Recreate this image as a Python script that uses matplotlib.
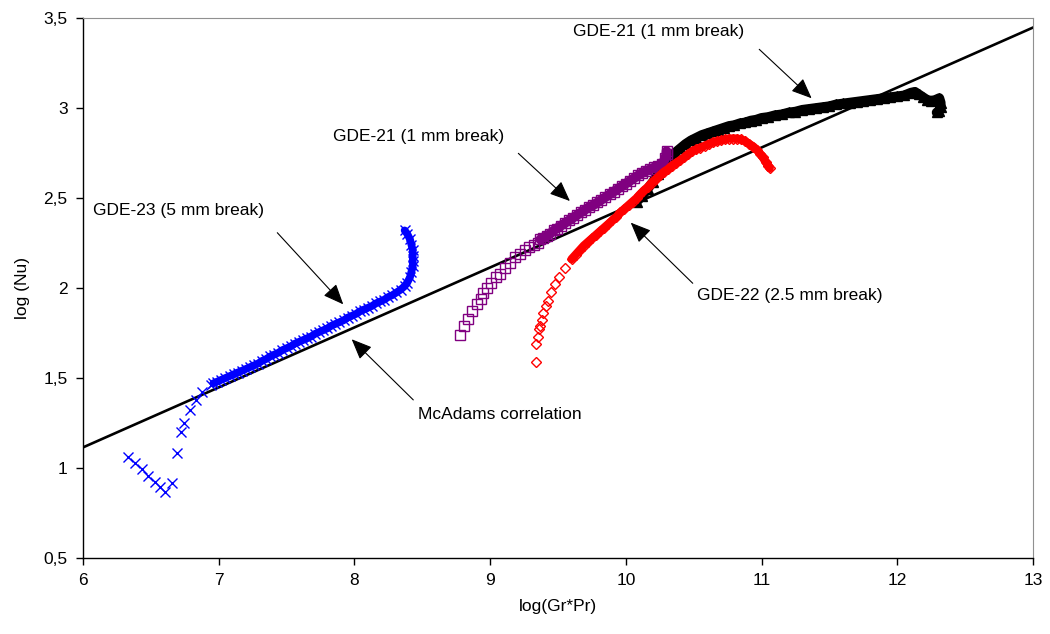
import matplotlib
matplotlib.use("Agg")
from matplotlib import pyplot as plt

plt.rcParams['font.family'] = ['Liberation Sans', 'DejaVu Sans']

# McAdams correlation end points
mcadams_x = [6.0, 13.0]
mcadams_y = [1.114, 3.447]

# GDE-23 (5 mm break) - blue crosses
# loose points at the start, then the tightly packed run
gde23_loose_x = [6.334, 6.383, 6.433, 6.479, 6.531, 6.567, 6.604, 6.654, 6.690, 6.720,
                 6.744, 6.79, 6.83, 6.88, 6.94]
gde23_loose_y = [1.063, 1.028, 0.994, 0.956, 0.922, 0.894, 0.867, 0.917, 1.083, 1.202,
                 1.252, 1.32, 1.38, 1.42, 1.46]
gde23_x = [6.96, 6.99, 7.02, 7.05, 7.08, 7.11, 7.14, 7.17, 7.20, 7.23,
           7.26, 7.29, 7.32, 7.35, 7.38, 7.41, 7.44, 7.47, 7.50, 7.53,
           7.56, 7.59, 7.62, 7.65, 7.68, 7.71, 7.74, 7.77, 7.80, 7.83,
           7.86, 7.89, 7.92, 7.95, 7.98, 8.01, 8.04, 8.07, 8.10, 8.13,
           8.16, 8.19, 8.22, 8.25, 8.28, 8.31, 8.34, 8.37, 8.39, 8.41,
           8.42, 8.43, 8.43, 8.43, 8.43, 8.42, 8.41, 8.39, 8.37]
gde23_y = [1.47, 1.48, 1.49, 1.50, 1.51, 1.52, 1.53, 1.54, 1.55, 1.56,
           1.57, 1.58, 1.595, 1.605, 1.62, 1.63, 1.64, 1.655, 1.665, 1.675,
           1.69, 1.70, 1.71, 1.72, 1.73, 1.745, 1.755, 1.765, 1.775, 1.79,
           1.80, 1.81, 1.82, 1.835, 1.845, 1.855, 1.87, 1.88, 1.89, 1.90,
           1.915, 1.925, 1.935, 1.95, 1.96, 1.975, 1.99, 2.01, 2.03, 2.06,
           2.09, 2.12, 2.15, 2.18, 2.21, 2.24, 2.27, 2.30, 2.32]

# GDE-21 (1 mm break), first run - purple squares
gde21a_loose_x = [8.78, 8.81, 8.84, 8.87, 8.90, 8.93, 8.95, 8.98, 9.01, 9.04,
                  9.07, 9.11, 9.15, 9.18, 9.22, 9.26, 9.29, 9.32, 9.35]
gde21a_loose_y = [1.74, 1.79, 1.83, 1.87, 1.91, 1.94, 1.97, 2.00, 2.03, 2.06,
                  2.08, 2.11, 2.14, 2.17, 2.19, 2.21, 2.23, 2.24, 2.25]
gde21a_x = [9.37, 9.39, 9.42, 9.44, 9.47, 9.49, 9.52, 9.55, 9.58, 9.61,
            9.64, 9.67, 9.70, 9.73, 9.76, 9.79, 9.82, 9.85, 9.88, 9.91,
            9.94, 9.97, 10.00, 10.03, 10.06, 10.09, 10.12, 10.15, 10.18, 10.21,
            10.24, 10.27, 10.29, 10.30, 10.30]
gde21a_y = [2.27, 2.28, 2.29, 2.30, 2.32, 2.33, 2.345, 2.36, 2.375, 2.39,
            2.405, 2.42, 2.435, 2.45, 2.46, 2.475, 2.49, 2.505, 2.52, 2.535,
            2.55, 2.565, 2.58, 2.595, 2.61, 2.625, 2.64, 2.65, 2.66, 2.67,
            2.68, 2.69, 2.72, 2.745, 2.76]

# GDE-22 (2.5 mm break) - red diamonds
gde22_loose_x = [9.34, 9.34, 9.35, 9.36, 9.37, 9.38, 9.39, 9.41, 9.43, 9.45,
                 9.48, 9.51, 9.55]
gde22_loose_y = [1.59, 1.69, 1.73, 1.77, 1.79, 1.82, 1.86, 1.90, 1.93, 1.98,
                 2.02, 2.06, 2.11]
gde22_x = [9.60, 9.63, 9.66, 9.69, 9.72, 9.75, 9.78, 9.81, 9.84, 9.87,
           9.90, 9.93, 9.96, 9.99, 10.02, 10.05, 10.08, 10.10, 10.13, 10.16,
           10.19, 10.22, 10.25, 10.28, 10.31, 10.34, 10.37, 10.40, 10.43, 10.46,
           10.49, 10.52, 10.55, 10.58, 10.61, 10.64, 10.67, 10.70, 10.73, 10.76,
           10.79, 10.82, 10.85, 10.88, 10.91, 10.94, 10.97, 10.99, 11.01, 11.03,
           11.05, 11.06]
gde22_y = [2.16, 2.185, 2.21, 2.235, 2.255, 2.275, 2.295, 2.315, 2.335, 2.355,
           2.375, 2.395, 2.42, 2.44, 2.46, 2.48, 2.50, 2.517, 2.54, 2.56,
           2.585, 2.605, 2.625, 2.645, 2.66, 2.68, 2.695, 2.71, 2.725, 2.745,
           2.76, 2.77, 2.78, 2.79, 2.80, 2.81, 2.815, 2.82, 2.825, 2.83,
           2.83, 2.83, 2.825, 2.815, 2.80, 2.785, 2.765, 2.745, 2.725, 2.70,
           2.68, 2.665]

# GDE-21 (1 mm break), second run - black triangles
gde21b_x = [10.08, 10.12, 10.16, 10.20, 10.24, 10.28, 10.32, 10.36,
            10.40, 10.44, 10.48, 10.52, 10.56, 10.60, 10.64, 10.68, 10.72, 10.76,
            10.80, 10.84, 10.88, 10.92, 10.96, 11.00, 11.05, 11.10, 11.15, 11.20,
            11.25, 11.30, 11.35, 11.40, 11.45, 11.50, 11.55, 11.60, 11.65, 11.70,
            11.75, 11.80, 11.85, 11.90, 11.95, 12.00, 12.05, 12.10, 12.13, 12.16,
            12.19, 12.22, 12.25, 12.28, 12.31, 12.32, 12.32, 12.31, 12.29]
gde21b_y = [2.48, 2.51, 2.55, 2.59, 2.635, 2.68, 2.715, 2.75,
            2.775, 2.80, 2.82, 2.835, 2.85, 2.86, 2.87, 2.88, 2.89, 2.90,
            2.905, 2.915, 2.92, 2.93, 2.935, 2.945, 2.95, 2.96, 2.965, 2.975,
            2.98, 2.99, 2.995, 3.00, 3.005, 3.01, 3.02, 3.025, 3.03, 3.035,
            3.04, 3.045, 3.05, 3.055, 3.06, 3.065, 3.07, 3.085, 3.09, 3.075,
            3.06, 3.045, 3.04, 3.045, 3.055, 3.03, 3.005, 2.985, 2.975]

y_ticks = [0.5, 1, 1.5, 2, 2.5, 3, 3.5]
y_tick_labels = ['0,5', '1', '1,5', '2', '2,5', '3', '3,5']
x_ticks = [6, 7, 8, 9, 10, 11, 12, 13]

fig = plt.figure(figsize=(10.5, 6.34), dpi=100)
ax = fig.add_axes([0.079, 0.12, 0.9048, 0.8516])

band = dict(solid_capstyle='round', solid_joinstyle='round')

ax.plot(mcadams_x, mcadams_y, color='black', lw=1.9, zorder=2)

# black triangles, packed into a solid band
ax.plot(gde21b_x, gde21b_y, color='black', lw=7, marker='^', ms=6.5, zorder=3, **band)

# purple squares
ax.plot(gde21a_loose_x, gde21a_loose_y, ls='none', marker='s', ms=6.5, mfc='none',
        mec='#800080', mew=1.0, zorder=4)
ax.plot(gde21a_x, gde21a_y, color='#800080', lw=7, marker='s', ms=6.5, mfc='none',
        mec='#800080', mew=1.0, zorder=4, **band)

# red diamonds
ax.plot(gde22_loose_x, gde22_loose_y, ls='none', marker='D', ms=4.8, mfc='none',
        mec='#ff0000', mew=1.0, zorder=5)
ax.plot(gde22_x, gde22_y, color='#ff0000', lw=6, marker='D', ms=4.8, mfc='none',
        mec='#ff0000', mew=1.0, zorder=5, **band)

# blue crosses
ax.plot(gde23_loose_x, gde23_loose_y, ls='none', marker='x', ms=6.5, color='#0000ff',
        mew=1.0, zorder=6)
ax.plot(gde23_x, gde23_y, color='#0000ff', lw=5.5, marker='x', ms=7,
        mew=1.0, zorder=6, **band)

ax.set_xlim(6, 13)
ax.set_ylim(0.5, 3.5)
ax.set_xticks(x_ticks)
ax.set_yticks(y_ticks)
ax.set_yticklabels(y_tick_labels)
ax.tick_params(direction='out', length=5, width=1, labelsize=12.5, pad=6)
ax.set_xlabel('log(Gr*Pr)', fontsize=12.5, labelpad=8)
ax.set_ylabel('log (Nu)', fontsize=12.5, labelpad=10)

for side in ['top', 'right']:
    ax.spines[side].set_color('#909090')
    ax.spines[side].set_linewidth(0.8)
for side in ['left', 'bottom']:
    ax.spines[side].set_linewidth(1.0)

arrow = dict(arrowstyle='-|>,head_length=0.9,head_width=0.38', color='black',
             lw=0.8, mutation_scale=14, shrinkA=0, shrinkB=0)

notes = [
    ('GDE-21 (1 mm break)', (9.611, 3.424), (10.983, 3.326), (11.369, 3.054)),
    ('GDE-21 (1 mm break)', (7.842, 2.841), (9.208, 2.748), (9.588, 2.483)),
    ('GDE-23 (5 mm break)', (6.071, 2.429), (7.432, 2.307), (7.918, 1.909)),
    ('McAdams correlation', (8.468, 1.298), (8.434, 1.378), (7.980, 1.715)),
    ('GDE-22 (2.5 mm break)', (10.524, 1.956), (10.493, 2.026), (10.036, 2.363)),
]
for label, txt_pos, start, tip in notes:
    ax.text(txt_pos[0], txt_pos[1], label, fontsize=12.5, ha='left', va='center',
            color='black', zorder=8)
    ax.annotate('', xy=tip, xytext=start, arrowprops=arrow, zorder=8)

plt.savefig('out.png', dpi=100)
plt.close()
